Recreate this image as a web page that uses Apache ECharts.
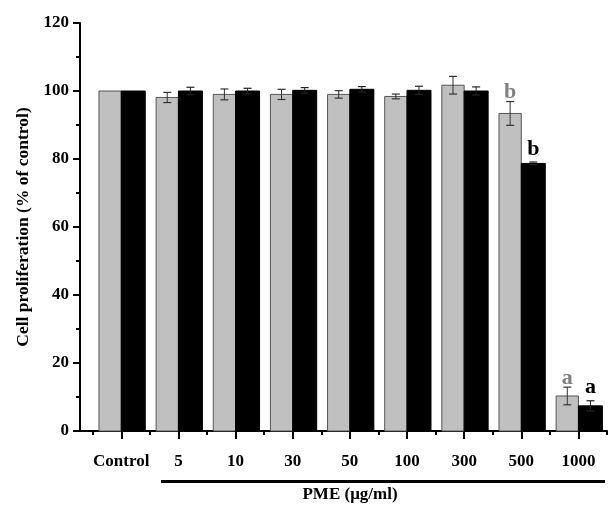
<!DOCTYPE html>
<html>
<head>
<meta charset="utf-8">
<script src="https://cdn.jsdelivr.net/npm/echarts@6/dist/echarts.min.js"></script>
<style>
  html, body { margin: 0; padding: 0; background: #fff; }
  #chart { width: 613px; height: 508px; }
</style>
</head>
<body>
<div id="chart"></div>
<script>
// data
var categories = ['Control', '5', '10', '30', '50', '100', '300', '500', '1000'];
var grayMeans = [100, 98.1, 99.0, 99.0, 99.0, 98.4, 101.7, 93.4, 10.3];
var grayErr = [0, 1.5, 1.6, 1.5, 1.1, 0.7, 2.6, 3.5, 2.6];
var blackMeans = [100, 100, 100, 100.2, 100.5, 100.2, 100, 78.7, 7.4];
var blackErr = [0, 1.1, 0.8, 0.8, 0.8, 1.2, 1.2, 0.4, 1.5];
var grayLetters = ['', '', '', '', '', '', '', 'b', 'a'];
var blackLetters = ['', '', '', '', '', '', '', 'b', 'a'];
var yTicks = [0, 20, 40, 60, 80, 100, 120];

var FONT = '"Liberation Serif", "Times New Roman", serif';

var chart = echarts.init(document.getElementById('chart'));

function toSeriesData(means, errs) {
  return means.map(function (m, i) {
    return [i, m, errs[i]];
  });
}

// bar + error bar + letter, drawn through the axis scales
function barRenderer(side, fill, stroke, letters, letterColor, letterGap) {
  return function (params, api) {
    var i = api.value(0), v = api.value(1), e = api.value(2);
    var w = api.size([1, 0])[0];
    var base = api.coord([i, 0]);
    var top = api.coord([i, v]);
    var bw = side < 0 ? w * 0.39 : w * 0.42;
    var x0 = side < 0 ? base[0] - bw : base[0];
    var cx = x0 + bw / 2;
    var children = [{
      type: 'rect',
      shape: { x: x0, y: top[1], width: bw, height: base[1] - top[1] },
      style: { fill: fill, stroke: stroke, lineWidth: 1 }
    }];
    var eTop = top[1];
    if (e > 0) {
      var hi = api.coord([i, v + e])[1];
      var lo = api.coord([i, v - e])[1];
      eTop = hi;
      var errColor = side < 0 ? '#333' : '#222';
      children.push({
        type: 'line', shape: { x1: cx, y1: hi, x2: cx, y2: lo },
        style: { stroke: errColor, lineWidth: 1 }
      }, {
        type: 'line', shape: { x1: cx - 4, y1: hi, x2: cx + 4, y2: hi },
        style: { stroke: errColor, lineWidth: 1.2 }
      }, {
        type: 'line', shape: { x1: cx - 4, y1: lo, x2: cx + 4, y2: lo },
        style: { stroke: errColor, lineWidth: 1.2 }
      });
    }
    var letter = letters[params.dataIndex];
    if (letter) {
      children.push({
        type: 'text',
        style: {
          x: cx, y: eTop - letterGap, text: letter,
          fill: letterColor, font: 'bold 22px ' + FONT,
          align: 'center', verticalAlign: 'bottom'
        }
      });
    }
    return { type: 'group', children: children };
  };
}

var option = {
  animation: false,
  backgroundColor: '#fff',
  grid: { left: 80, right: 6, top: 23, bottom: 69 },
  xAxis: [{
    type: 'value',
    min: -0.722,
    max: 8.5,
    name: 'PME (μg/ml)',
    nameLocation: 'middle',
    nameGap: 55,
    nameTextStyle: {
      fontFamily: FONT, fontWeight: 'bold', fontSize: 17, color: '#000',
      padding: [0, 0, 0, 13]
    },
    splitLine: { show: false },
    axisLine: { show: true, onZero: false, lineStyle: { color: '#000', width: 2 } },
    axisTick: {
      show: true, length: 8, inside: false,
      customValues: [0, 1, 2, 3, 4, 5, 6, 7, 8],
      lineStyle: { color: '#000', width: 2 }
    },
    axisLabel: {
      customValues: [0, 1, 2, 3, 4, 5, 6, 7, 8],
      margin: 22,
      fontFamily: FONT, fontWeight: 'bold', fontSize: 17, color: '#000',
      formatter: function (v) { return categories[Math.round(v)]; }
    }
  }, {
    type: 'value',
    position: 'bottom',
    min: -0.722,
    max: 8.5,
    splitLine: { show: false },
    axisLine: { show: false, onZero: false },
    axisTick: {
      show: true, length: 4,
      customValues: [-0.5, 0.5, 1.5, 2.5, 3.5, 4.5, 5.5, 6.5, 7.5, 8.5],
      lineStyle: { color: '#000', width: 2 }
    },
    axisLabel: { show: false }
  }],
  yAxis: {
    type: 'value',
    min: 0,
    max: 120,
    interval: 20,
    name: 'Cell proliferation (% of control)',
    nameLocation: 'middle',
    nameGap: 46,
    nameTextStyle: { fontFamily: FONT, fontWeight: 'bold', fontSize: 17.5, color: '#000' },
    splitLine: { show: false },
    axisLine: { show: true, onZero: false, lineStyle: { color: '#000', width: 2 } },
    axisTick: { show: true, length: 7, lineStyle: { color: '#000', width: 2 } },
    minorTick: { show: true, splitNumber: 2, length: 4, lineStyle: { color: '#000', width: 2 } },
    minorSplitLine: { show: false },
    axisLabel: {
      margin: 11,
      fontFamily: FONT, fontWeight: 'bold', fontSize: 17, color: '#000',
      formatter: function (v) { return yTicks.indexOf(v) > -1 ? String(v) : ''; }
    }
  },
  series: [{
    type: 'custom',
    name: 'gray',
    renderItem: barRenderer(-1, '#c0c0c0', '#555', grayLetters, '#808080', -2),
    encode: { x: 0, y: 1 },
    data: toSeriesData(grayMeans, grayErr),
    z: 2
  }, {
    type: 'custom',
    name: 'black',
    renderItem: barRenderer(1, '#000', '#000', blackLetters, '#000', 2),
    encode: { x: 0, y: 1 },
    data: toSeriesData(blackMeans, blackErr),
    z: 2
  }],
  graphic: [{
    // bracket line under the dose labels
    type: 'line',
    shape: { x1: 161, y1: 481.5, x2: 605, y2: 481.5 },
    style: { stroke: '#000', lineWidth: 3 }
  }]
};

chart.setOption(option);
</script>
</body>
</html>
